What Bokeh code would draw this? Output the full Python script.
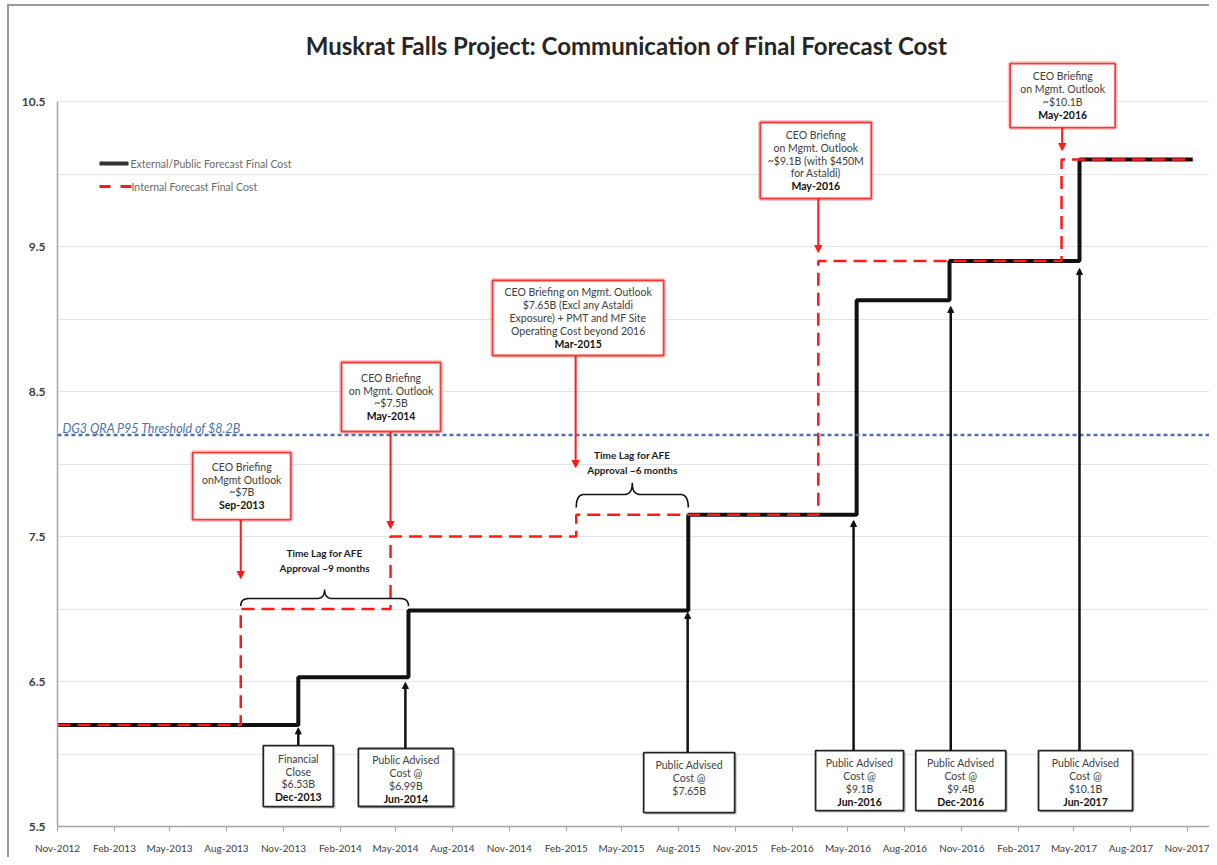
import numpy as np
import pandas as pd
from bokeh.plotting import figure
from bokeh.models import (Range1d, FixedTicker, DatetimeTickFormatter, Span, Arrow,
                          NormalHead, ColumnDataSource)
from bokeh.core.properties import value
from bokeh.embed import file_html
from bokeh.resources import INLINE

# ---------------------------------------------------------------- data
title_text = "Muskrat Falls Project: Communication of Final Forecast Cost"

tick_dates = ["2012-11-01", "2013-02-01", "2013-05-01", "2013-08-01", "2013-11-01",
              "2014-02-01", "2014-05-01", "2014-08-01", "2014-11-01", "2015-02-01",
              "2015-05-01", "2015-08-01", "2015-11-01", "2016-02-01", "2016-05-01",
              "2016-08-01", "2016-11-01", "2017-02-01", "2017-05-01", "2017-08-01",
              "2017-11-01"]
y_ticks = [5.5, 6.5, 7.5, 8.5, 9.5, 10.5]
y_minor = [6.0, 7.0, 8.0, 9.0, 10.0]

external_name = "External/Public Forecast Final Cost"
external_dates = ["2012-11-01", "2013-11-25", "2014-05-22", "2015-08-17",
                  "2016-05-15", "2016-10-12", "2017-05-10", "2017-11-09"]
external_cost = [6.2, 6.53, 6.99, 7.65, 9.13, 9.4, 10.1, 10.1]

internal_name = "Internal Forecast Final Cost"
internal_dates = ["2012-11-01", "2013-08-24", "2014-04-23", "2015-02-17",
                  "2016-03-14", "2017-04-11", "2017-11-09"]
internal_cost = [6.2, 7.0, 7.5, 7.65, 9.4, 10.1, 10.1]

threshold_cost = 8.2
threshold_text = "DG3 QRA P95 Threshold of $8.2B"

ceo_dates = ["2013-08-24", "2014-04-23", "2015-02-16", "2016-03-14", "2017-04-12"]
ceo_text = [["CEO Briefing", "onMgmt Outlook", "~$7B"],
            ["CEO Briefing", "on Mgmt. Outlook", "~$7.5B"],
            ["CEO Briefing on Mgmt. Outlook", "$7.65B (Excl any Astaldi",
             "Exposure) + PMT and MF Site", "Operating Cost beyond 2016"],
            ["CEO Briefing", "on Mgmt. Outlook", "~$9.1B (with $450M", "for Astaldi)"],
            ["CEO Briefing", "on Mgmt. Outlook", "~$10.1B"]]
ceo_month = ["Sep-2013", "May-2014", "Mar-2015", "May-2016", "May-2016"]

public_dates = ["2013-11-25", "2014-05-17", "2015-08-16", "2016-05-10", "2016-10-14", "2017-05-10"]
public_text = [["Financial", "Close", "$6.53B"],
               ["Public Advised", "Cost @", "$6.99B"],
               ["Public Advised", "Cost @", "$7.65B"],
               ["Public Advised", "Cost @", "$9.1B"],
               ["Public Advised", "Cost @", "$9.4B"],
               ["Public Advised", "Cost @", "$10.1B"]]
public_month = ["Dec-2013", "Jun-2014", "", "Jun-2016", "Dec-2016", "Jun-2017"]

lag_start = ["2013-08-24", "2015-02-17"]
lag_end = ["2014-05-22", "2015-08-17"]
lag_text = [["Time Lag for AFE", "Approval ~9 months"],
            ["Time Lag for AFE", "Approval ~6 months"]]

# ---------------------------------------------------------------- layout / style
W, H = 1209, 857
LEFT, BOTTOM = 57, 31
X_START, X_END = "2012-11-01", "2017-12-06"
PX_PER_VAL = 145.0
Y_LO = 5.5
Y_HI = Y_LO + (H - BOTTOM) / PX_PER_VAL

ceo_box_y = [7.848, 8.462, 9.007, 10.093, 10.541]
ceo_box_dx = [1, 0.5, 2.5, -2.5, 0.5]
ceo_box_w = [98, 99, 171, 111, 105]
ceo_box_h = [67, 69, 75, 76, 64]
ceo_tip = [7.21, 7.555, 7.976, 9.459, 10.162]

pub_box_y = [5.848, 5.838, 5.803, 5.817, 5.817, 5.817]
pub_box_dx = [0, 0.5, 1.5, 6, 10, 6]
pub_box_w = [70, 95, 91, 88, 90, 94]
pub_box_h = [61, 58, 60, 60, 60, 60]
pub_tip = [6.18, 6.493, 6.976, 7.61, 9.086, 9.348]

lag_end_y = [7.02, 7.70]
lag_base_y = [7.072, 7.79]
lag_tip_y = [7.134, 7.87]
lag_text_y = [7.383, 8.059]

RED = "#ff1a1a"
BLACK = "#111111"
BLUE = "#4f72ad"
GRID = "#e4e4e4"
AXIS = "#a6a6a6"
TXT = "#404040"
FONT = "Lato"
BOX_FS = "10.5px"
LINE_GAP = 12.8


def ms(d):
    return pd.Timestamp(d).value / 1e6


X0, X1 = ms(X_START), ms(X_END)
PX_PER_MS = (W - LEFT) / (X1 - X0)


def dx(px):
    return px / PX_PER_MS


def dy(px):
    return px / PX_PER_VAL


# canvas-pixel helpers for purely decorative items (title, legend)
def ref_x(px):
    return X0 + dx(px - LEFT)


def ref_y(py):
    return Y_LO + dy(H - BOTTOM - py)


frame_css = {
    "background-color": "white",
    "background-image": "linear-gradient(#9a9a9a,#9a9a9a), linear-gradient(#9a9a9a,#9a9a9a)",
    "background-position": "7px 5px, 7px 4px",
    "background-size": "2px 860px, 1210px 2px",
    "background-repeat": "no-repeat, no-repeat",
}

p = figure(width=W, height=H, x_axis_type="datetime", output_backend="svg",
           toolbar_location=None, title=None,
           x_range=Range1d(X0, X1), y_range=Range1d(Y_LO, Y_HI),
           min_border_left=LEFT, min_border_right=0, min_border_top=0,
           min_border_bottom=BOTTOM, styles=frame_css)
p.outline_line_color = None
p.background_fill_color = None
p.border_fill_color = None

# axes
p.xaxis.ticker = FixedTicker(ticks=[ms(d) for d in tick_dates])
fmt = "%b-%Y"
p.xaxis.formatter = DatetimeTickFormatter(microseconds=fmt, milliseconds=fmt, seconds=fmt,
                                          minsec=fmt, minutes=fmt, hourmin=fmt, hours=fmt,
                                          days=fmt, months=fmt, years=fmt)
p.xaxis.axis_line_color = AXIS
p.xaxis.axis_line_width = 1.5
p.xaxis.major_tick_line_color = AXIS
p.xaxis.major_tick_out = 5
p.xaxis.major_tick_in = 0
p.xaxis.minor_tick_line_color = None
p.xaxis.major_label_standoff = 10
p.xaxis.major_label_text_font = FONT
p.xaxis.major_label_text_font_size = "10px"
p.xaxis.major_label_text_color = TXT

p.yaxis.ticker = FixedTicker(ticks=y_ticks, minor_ticks=y_minor)
p.yaxis.bounds = (y_ticks[0], y_ticks[-1])
p.yaxis.axis_line_color = AXIS
p.yaxis.axis_line_width = 1.5
p.yaxis.major_tick_out = 0
p.yaxis.major_tick_in = 0
p.yaxis.minor_tick_out = 0
p.yaxis.minor_tick_in = 0
p.yaxis.major_label_standoff = 12
p.yaxis.major_label_text_font = FONT
p.yaxis.major_label_text_font_size = "12px"
p.yaxis.major_label_text_font_style = "bold"
p.yaxis.major_label_text_color = TXT

p.xgrid.grid_line_color = None
p.ygrid.grid_line_color = GRID
p.ygrid.minor_grid_line_color = GRID
p.ygrid.grid_line_width = 1

# threshold
p.add_layout(Span(location=threshold_cost, dimension="width", line_color=BLUE,
                  line_width=2.5, line_dash="4 3"))
p.text(x=[ref_x(62)], y=[threshold_cost + dy(7)], text=[threshold_text],
       text_font=value(FONT), text_font_size="12.5px", text_font_style="italic",
       text_color=BLUE, text_baseline="middle", text_align="left")

# series
p.step(x=[ms(d) for d in external_dates], y=external_cost, mode="after",
       line_color=BLACK, line_width=4)
p.step(x=[ms(d) for d in internal_dates], y=internal_cost, mode="after",
       line_color=RED, line_width=2.5, line_dash="13 7")


def quad(a, c, b, n=14):
    t = np.linspace(0, 1, n)[:, None]
    return (1 - t) ** 2 * np.array(a) + 2 * (1 - t) * t * np.array(c) + t ** 2 * np.array(b)


# braces for time lags
for s, e, ye, yb, yt, txt, ty in zip(lag_start, lag_end, lag_end_y, lag_base_y,
                                      lag_tip_y, lag_text, lag_text_y):
    x0, x1 = ms(s), ms(e)
    xm = (x0 + x1) / 2
    r = dx(8)
    pts = np.vstack([
        quad([x0, ye], [x0, yb], [x0 + r, yb]),
        quad([xm - r, yb], [xm, yb], [xm, yt]),
        quad([xm, yt], [xm, yb], [xm + r, yb]),
        quad([x1 - r, yb], [x1, yb], [x1, ye]),
    ])
    p.line(pts[:, 0], pts[:, 1], line_color=BLACK, line_width=1.6)
    p.text(x=[xm, xm], y=[ty, ty - dy(15)], text=txt, text_font=value(FONT),
           text_font_size="10px", text_font_style="bold", text_color="#1a1a1a",
           text_align="center", text_baseline="middle")


def box_texts(cx, cy, lines, bold):
    xs, ys, ts, st = [], [], [], []
    allt = list(lines) + [bold]
    n = len(allt)
    for j, t in enumerate(allt):
        xs.append(cx)
        ys.append(cy - dy((j - (n - 1) / 2) * LINE_GAP))
        ts.append(t)
        st.append("bold" if j == n - 1 else "normal")
    return xs, ys, ts, st


# CEO briefing boxes (red)
cx = [ms(d) + dx(o) for d, o in zip(ceo_dates, ceo_box_dx)]
p.rect(cx, ceo_box_y, ceo_box_w, ceo_box_h, width_units="screen", height_units="screen",
       fill_color=None, line_color="#ff9c9c", line_width=5, line_alpha=0.55)
p.rect(cx, ceo_box_y, ceo_box_w, ceo_box_h, width_units="screen", height_units="screen",
       fill_color="white", fill_alpha=0.8, line_color="#f23c3c", line_width=1.8)
src = ColumnDataSource(dict(
    x0=[ms(d) for d in ceo_dates],
    y0=[y - dy(h / 2) for y, h in zip(ceo_box_y, ceo_box_h)],
    x1=[ms(d) for d in ceo_dates], y1=ceo_tip))
p.add_layout(Arrow(end=NormalHead(size=7, fill_color=RED, line_color=RED),
                   x_start="x0", y_start="y0", x_end="x1", y_end="y1", source=src,
                   line_color=RED, line_width=2))
T = dict(x=[], y=[], t=[], s=[])
for i in range(len(ceo_dates)):
    xs, ys, ts, st = box_texts(cx[i], ceo_box_y[i], ceo_text[i], ceo_month[i])
    T["x"] += xs; T["y"] += ys; T["t"] += ts; T["s"] += st

# public advised boxes (black)
px_ = [ms(d) + dx(o) for d, o in zip(public_dates, pub_box_dx)]
p.rect([x + dx(2) for x in px_], [y - dy(2) for y in pub_box_y], pub_box_w, pub_box_h,
       width_units="screen", height_units="screen", fill_color="#9a9a9a", fill_alpha=0.6,
       line_color=None)
p.rect(px_, pub_box_y, pub_box_w, pub_box_h, width_units="screen", height_units="screen",
       fill_color="white", line_color="#262626", line_width=1.8)
src2 = ColumnDataSource(dict(
    x0=[ms(d) for d in public_dates],
    y0=[y + dy(h / 2) for y, h in zip(pub_box_y, pub_box_h)],
    x1=[ms(d) for d in public_dates], y1=pub_tip))
p.add_layout(Arrow(end=NormalHead(size=6, fill_color=BLACK, line_color=BLACK),
                   x_start="x0", y_start="y0", x_end="x1", y_end="y1", source=src2,
                   line_color=BLACK, line_width=2.5))
for i in range(len(public_dates)):
    xs, ys, ts, st = box_texts(px_[i], pub_box_y[i] - dy(2), public_text[i], public_month[i])
    T["x"] += xs; T["y"] += ys; T["t"] += ts; T["s"] += st

tsrc = ColumnDataSource(dict(x=T["x"], y=T["y"], text=T["t"], style=T["s"],
                             color=["#111111" if s == "bold" else TXT for s in T["s"]]))
p.text(x="x", y="y", text="text", source=tsrc, text_font=value(FONT),
       text_font_size=BOX_FS, text_font_style="style", text_color="color",
       text_align="center", text_baseline="middle")

# legend (drawn manually)
p.line([ref_x(99), ref_x(128)], [ref_y(163), ref_y(163)], line_color="#333333", line_width=4)
p.line([ref_x(99), ref_x(131)], [ref_y(186), ref_y(186)], line_color=RED, line_width=3,
       line_dash="11 10")
p.text(x=[ref_x(130), ref_x(131)], y=[ref_y(163), ref_y(186)],
       text=[external_name, internal_name], text_font=value(FONT), text_font_size="10.5px",
       text_color="#6b6b6b", text_align="left", text_baseline="middle")

# title
p.text(x=[ref_x(626)], y=[ref_y(45)], text=[title_text], text_font=value(FONT),
       text_font_size="24px", text_font_style="bold", text_color="#262626",
       text_align="center", text_baseline="middle")

open("out.html", "w").write(file_html(p, INLINE))
